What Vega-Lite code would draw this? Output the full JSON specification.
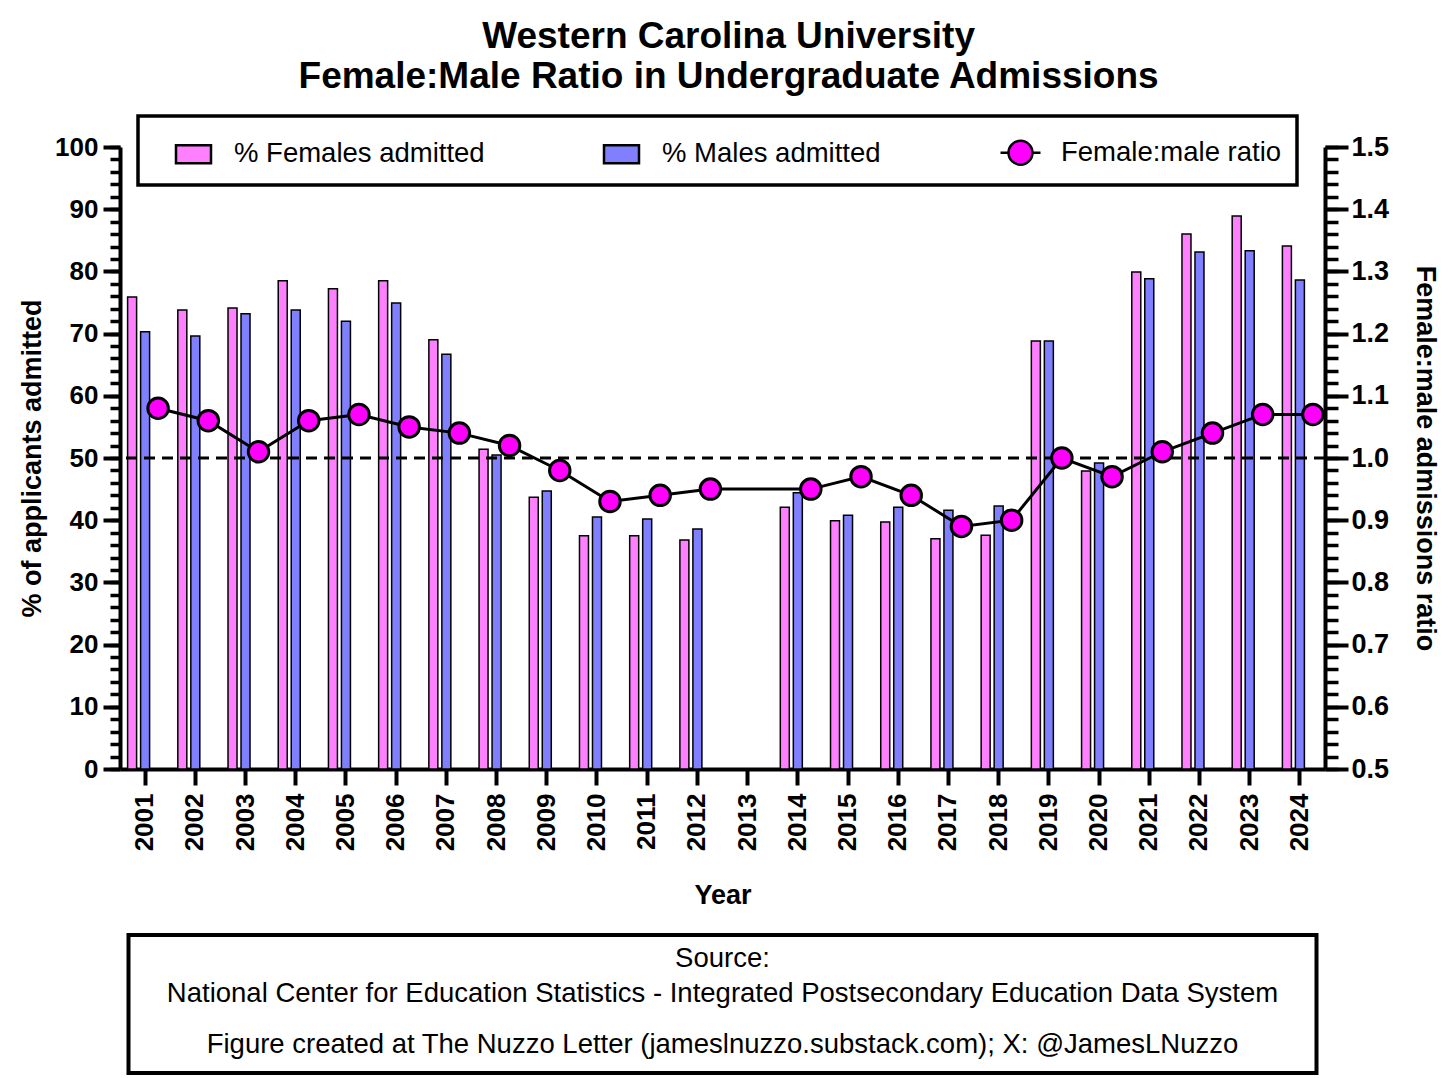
{
  "$schema": "https://vega.github.io/schema/vega-lite/v6.json",
  "padding": {"left": 18, "top": 18, "right": 16, "bottom": 0},
  "title": {
    "text": ["Western Carolina University", "Female:Male Ratio in Undergraduate Admissions"],
    "fontSize": 37,
    "fontWeight": "bold",
    "lineHeight": 40,
    "anchor": "middle",
    "offset": 18,
    "color": "black"
  },
  "bounds": "flush",
  "center": true,
  "spacing": 166,
  "config": {
    "font": "Liberation Sans",
    "view": {"stroke": null},
    "legend": {"strokeWidth": 3.5},
    "axis": {"labelColor": "black", "titleColor": "black", "domainColor": "black", "tickColor": "black", "grid": false}
  },
  "vconcat": [
    {
      "width": 1205,
      "height": 622,
      "data": {
        "values": [
          {"year": 2001, "female": 75.9, "male": 70.3, "ratio": 1.08},
          {"year": 2002, "female": 73.8, "male": 69.6, "ratio": 1.06},
          {"year": 2003, "female": 74.1, "male": 73.2, "ratio": 1.01},
          {"year": 2004, "female": 78.5, "male": 73.8, "ratio": 1.06},
          {"year": 2005, "female": 77.2, "male": 72.0, "ratio": 1.07},
          {"year": 2006, "female": 78.5, "male": 74.9, "ratio": 1.05},
          {"year": 2007, "female": 69.0, "male": 66.7, "ratio": 1.04},
          {"year": 2008, "female": 51.4, "male": 50.5, "ratio": 1.02},
          {"year": 2009, "female": 43.7, "male": 44.7, "ratio": 0.98},
          {"year": 2010, "female": 37.5, "male": 40.5, "ratio": 0.93},
          {"year": 2011, "female": 37.5, "male": 40.2, "ratio": 0.94},
          {"year": 2012, "female": 36.8, "male": 38.6, "ratio": 0.95},
          {"year": 2013, "female": null, "male": null, "ratio": null},
          {"year": 2014, "female": 42.1, "male": 44.4, "ratio": 0.95},
          {"year": 2015, "female": 39.9, "male": 40.8, "ratio": 0.97},
          {"year": 2016, "female": 39.7, "male": 42.1, "ratio": 0.94},
          {"year": 2017, "female": 37.0, "male": 41.6, "ratio": 0.89},
          {"year": 2018, "female": 37.6, "male": 42.3, "ratio": 0.90},
          {"year": 2019, "female": 68.8, "male": 68.8, "ratio": 1.00},
          {"year": 2020, "female": 47.9, "male": 49.2, "ratio": 0.97},
          {"year": 2021, "female": 79.9, "male": 78.8, "ratio": 1.01},
          {"year": 2022, "female": 86.0, "male": 83.1, "ratio": 1.04},
          {"year": 2023, "female": 88.9, "male": 83.3, "ratio": 1.07},
          {"year": 2024, "female": 84.1, "male": 78.6, "ratio": 1.07}
        ]
      },
      "layer": [
        {
          "layer": [
            {
              "mark": {"type": "bar", "width": 9, "xOffset": -13, "fill": "#FF80FF", "stroke": "black", "strokeWidth": 1.5},
              "encoding": {
                "x": {
                  "field": "year", "type": "ordinal",
                  "scale": {"domain": [2001,2002,2003,2004,2005,2006,2007,2008,2009,2010,2011,2012,2013,2014,2015,2016,2017,2018,2019,2020,2021,2022,2023,2024], "paddingInner": 0, "paddingOuter": 0},
                  "axis": {"title": "Year", "labelAngle": 270, "labelFontSize": 26, "labelFontWeight": "bold", "labelPadding": 8, "tickSize": 16, "tickWidth": 4, "domainWidth": 4, "titleFontSize": 27, "titleFontWeight": "bold", "titlePadding": 32}
                },
                "y": {
                  "field": "female", "type": "quantitative",
                  "scale": {"domain": [0, 100], "nice": false},
                  "axis": {"orient": "left", "title": "% of applicants admitted", "values": [0,10,20,30,40,50,60,70,80,90,100], "tickSize": 17, "tickWidth": 4, "domainWidth": 4, "labelFontSize": 26, "labelFontWeight": "bold", "labelPadding": 5, "titleFontSize": 27, "titleFontWeight": "bold", "titlePadding": 8}
                }
              }
            },
            {
              "mark": {"type": "bar", "width": 9, "xOffset": 0, "fill": "#8080FF", "stroke": "black", "strokeWidth": 1.5},
              "encoding": {
                "x": {
                  "field": "year", "type": "ordinal",
                  "axis": {"title": "Year", "labelAngle": 270, "labelFontSize": 26, "labelFontWeight": "bold", "labelPadding": 8, "tickSize": 16, "tickWidth": 4, "domainWidth": 4, "titleFontSize": 27, "titleFontWeight": "bold", "titlePadding": 32}
                },
                "y": {"field": "male", "type": "quantitative", "axis": null}
              }
            },
            {
              "data": {"values": [{}]},
              "mark": {"type": "rule", "color": "black", "strokeWidth": 3, "strokeDash": [11, 7]},
              "encoding": {
                "y": {
                  "datum": 50, "type": "quantitative",
                  "axis": {"orient": "left", "title": null, "labels": false, "domain": false, "tickSize": 10, "tickWidth": 3.5,
                    "values": [0,2,4,6,8,10,12,14,16,18,20,22,24,26,28,30,32,34,36,38,40,42,44,46,48,50,52,54,56,58,60,62,64,66,68,70,72,74,76,78,80,82,84,86,88,90,92,94,96,98,100]}
                }
              }
            }
          ],
          "resolve": {"axis": {"y": "independent"}}
        },
        {
          "layer": [
            {
              "mark": {"type": "line", "color": "black", "strokeWidth": 3, "xOffset": 13, "invalid": "filter"},
              "encoding": {
                "x": {
                  "field": "year", "type": "ordinal",
                  "axis": {"title": "Year", "labelAngle": 270, "labelFontSize": 26, "labelFontWeight": "bold", "labelPadding": 8, "tickSize": 16, "tickWidth": 4, "domainWidth": 4, "titleFontSize": 27, "titleFontWeight": "bold", "titlePadding": 32}
                },
                "y": {
                  "field": "ratio", "type": "quantitative",
                  "scale": {"domain": [0.5, 1.5], "nice": false, "zero": false},
                  "axis": {"orient": "right", "title": "Female:male admissions ratio", "titleAngle": 90, "values": [0.5,0.6,0.7,0.8,0.9,1.0,1.1,1.2,1.3,1.4,1.5], "format": ".1f", "tickSize": 23, "tickWidth": 4, "domainWidth": 4, "labelFontSize": 27, "labelFontWeight": "bold", "labelPadding": 3, "titleFontSize": 27, "titleFontWeight": "bold", "titlePadding": 22}
                }
              }
            },
            {
              "mark": {"type": "point", "filled": true, "fill": "#FF00FF", "stroke": "black", "strokeWidth": 3, "size": 420, "opacity": 1, "xOffset": 13},
              "encoding": {
                "x": {
                  "field": "year", "type": "ordinal",
                  "axis": {"title": "Year", "labelAngle": 270, "labelFontSize": 26, "labelFontWeight": "bold", "labelPadding": 8, "tickSize": 16, "tickWidth": 4, "domainWidth": 4, "titleFontSize": 27, "titleFontWeight": "bold", "titlePadding": 32}
                },
                "y": {
                  "field": "ratio", "type": "quantitative",
                  "axis": {"orient": "right", "title": null, "labels": false, "domain": false, "tickSize": 13, "tickWidth": 3.5,
                    "values": [0.5,0.52,0.54,0.56,0.58,0.6,0.62,0.64,0.66,0.68,0.7,0.72,0.74,0.76,0.78,0.8,0.82,0.84,0.86,0.88,0.9,0.92,0.94,0.96,0.98,1.0,1.02,1.04,1.06,1.08,1.1,1.12,1.14,1.16,1.18,1.2,1.22,1.24,1.26,1.28,1.3,1.32,1.34,1.36,1.38,1.4,1.42,1.44,1.46,1.48,1.5]}
                }
              }
            },
            {
              "data": {"values": [{"series": "% Females admitted"}, {"series": "% Males admitted"}, {"series": "Female:male ratio"}]},
              "transform": [{"filter": "false"}],
              "mark": {"type": "point", "filled": true, "stroke": "black", "strokeWidth": 2.5, "opacity": 1},
              "encoding": {
                "color": {
                  "field": "series", "type": "nominal",
                  "scale": {"domain": ["% Females admitted", "% Males admitted", "Female:male ratio"], "range": ["#FF80FF", "#8080FF", "#FF00FF"]},
                  "legend": {"title": "\u00a0", "titleOrient": "left", "titleFontSize": 1, "titlePadding": 19, "orient": "none", "legendX": 18, "legendY": -31, "direction": "horizontal", "symbolSize": 1600, "symbolStrokeColor": "black", "symbolStrokeWidth": 2.5, "labelFontSize": 27.5, "labelColor": "black", "labelOffset": 19, "labelLimit": 400, "columnPadding": 114, "padding": 15, "strokeColor": "black", "fillColor": "white"}
                },
                "shape": {
                  "field": "series", "type": "nominal",
                  "scale": {"domain": ["% Females admitted", "% Males admitted", "Female:male ratio"], "range": ["M-0.875,-0.45H0.875V0.45H-0.875Z", "M-0.875,-0.45H0.875V0.45H-0.875Z", "M-1,0H-0.6M0.6,0H1M-0.6,0A0.6,0.6,0,1,1,0.6,0A0.6,0.6,0,1,1,-0.6,0Z"]},
                  "legend": {"title": "\u00a0", "titleOrient": "left", "titleFontSize": 1, "titlePadding": 19, "orient": "none", "legendX": 18, "legendY": -31, "direction": "horizontal", "symbolSize": 1600, "symbolStrokeColor": "black", "symbolStrokeWidth": 2.5, "labelFontSize": 27.5, "labelColor": "black", "labelOffset": 19, "labelLimit": 400, "columnPadding": 114, "padding": 15, "strokeColor": "black", "fillColor": "white"}
                }
              }
            }
          ],
          "resolve": {"axis": {"y": "independent"}}
        }
      ],
      "resolve": {"scale": {"y": "independent"}}
    },
    {
      "width": 1188,
      "height": 138,
      "view": {"stroke": "black", "strokeWidth": 4},
      "data": {
        "values": [
          {"part": "source", "text": "Source:\nNational Center for Education Statistics - Integrated Postsecondary Education Data System"},
          {"part": "credit", "text": "Figure created at The Nuzzo Letter (jameslnuzzo.substack.com); X: @JamesLNuzzo"}
        ]
      },
      "mark": {"type": "text", "fontSize": 27.5, "color": "black", "baseline": "middle", "lineBreak": "\n", "lineHeight": 35},
      "encoding": {
        "y": {"field": "part", "type": "ordinal", "sort": ["source", "credit"], "scale": {"type": "point", "padding": 0.302, "align": 0.46}, "axis": null},
        "text": {"field": "text"}
      }
    }
  ]
}
